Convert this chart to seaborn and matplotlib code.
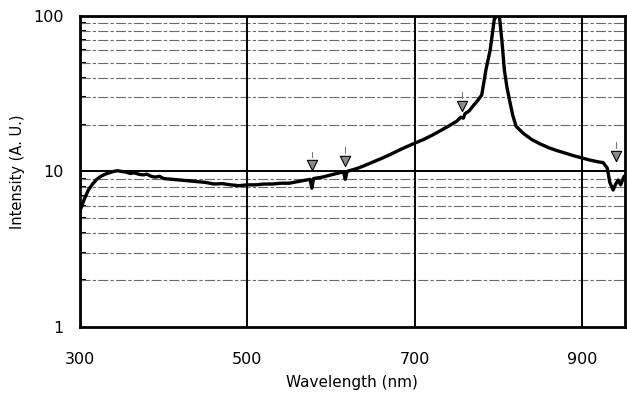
import numpy as np
import pandas as pd
import seaborn as sns
from matplotlib import pyplot as plt
from matplotlib.ticker import FixedLocator, NullFormatter, FixedFormatter

# spectrum
wavelength = [300, 305, 310, 315, 320, 325, 330, 335, 340, 345, 350, 355, 360, 365, 370,
              375, 380, 385, 390, 395, 400, 410, 420, 430, 440, 450, 460, 470, 480, 490,
              500, 510, 520, 530, 540, 550, 560, 570, 575, 577, 579, 590, 600, 610, 615,
              617, 619, 630, 640, 650, 660, 670, 680, 690, 700, 710, 720, 730, 740, 750,
              755, 758, 760, 765, 770, 775, 780, 785, 790, 795, 798, 801, 804, 807, 810,
              813, 817, 821, 830, 840, 850, 860, 870, 880, 890, 900, 910, 920, 925, 930,
              933, 937, 940, 943, 946, 950, 955]
intensity = [5.6, 6.6, 7.6, 8.3, 8.9, 9.3, 9.6, 9.8, 10.0, 10.1, 10.0, 9.9, 9.7, 9.8, 9.6,
             9.5, 9.6, 9.3, 9.2, 9.3, 9.0, 8.9, 8.8, 8.7, 8.6, 8.5, 8.3, 8.35, 8.2, 8.1,
             8.2, 8.2, 8.3, 8.3, 8.4, 8.4, 8.6, 8.8, 8.9, 7.8, 9.0, 9.2, 9.5, 9.8, 9.9,
             8.9, 10.0, 10.4, 10.9, 11.5, 12.1, 12.8, 13.6, 14.4, 15.2, 16.0, 17.0, 18.2, 19.5, 21.0,
             22.3, 22.0, 23.5, 24.5, 26.5, 28.5, 31, 45, 60, 95, 100, 100, 70, 45, 35,
             29, 23, 19.5, 17.5, 16.0, 15.0, 14.2, 13.6, 13.1, 12.6, 12.2, 11.8, 11.5, 11.4, 10.5,
             8.5, 7.6, 8.3, 8.8, 8.2, 9.3, 9.0]

# arrow-head markers
marker_wl = [577, 617, 757, 940]
marker_int = [11.0, 11.7, 26.4, 12.6]

x_ticks = [300, 500, 700, 900]
y_ticks = [1, 10, 100]
y_tick_labels = ["1", "10", "100"]

df = pd.DataFrame({"wl": wavelength, "I": intensity})

sns.set_style("white")
plt.rcParams['font.family'] = ['DejaVu Sans']
plt.rcParams['text.color'] = 'black'
plt.rcParams['axes.labelcolor'] = 'black'
plt.rcParams['xtick.color'] = 'black'
plt.rcParams['ytick.color'] = 'black'

fig = plt.figure(figsize=(6.27, 3.95), dpi=100)
ax = fig.add_axes([0.1276, 0.172, 0.869, 0.788])
ax.set_yscale('log')
ax.set_xlim(300, 951)
ax.set_ylim(1, 100)

# minor dashed grid
minors = [m * d for d in (1, 10) for m in range(2, 10)]
for v in minors:
    ax.axhline(v, color='#6a6a6a', lw=0.8, dashes=(9, 2, 3, 2), zorder=1)
ax.axhline(10, color='black', lw=1.4, zorder=2)
for v in x_ticks[1:]:
    ax.axvline(v, color='black', lw=1.4, zorder=2)

sns.lineplot(data=df, x="wl", y="I", color='black', lw=2.4, ax=ax, zorder=3)

# markers with little stems
ax.scatter(marker_wl, marker_int, marker='v', s=55, facecolor='#8a8a8a',
           edgecolor='black', linewidth=0.8, zorder=4)
for w, v in zip(marker_wl, marker_int):
    ax.plot([w, w], [v * 1.12, v * 1.22], color='#777777', lw=0.8, zorder=4)

ax.yaxis.set_major_locator(FixedLocator(y_ticks))
ax.yaxis.set_major_formatter(FixedFormatter(y_tick_labels))
ax.yaxis.set_minor_locator(FixedLocator(minors))
ax.yaxis.set_minor_formatter(NullFormatter())
ax.set_xticks(x_ticks)
ax.tick_params(axis='x', length=0, pad=18, labelsize=11.5)
ax.tick_params(axis='y', which='major', length=0, pad=12, labelsize=11.5)
ax.tick_params(axis='y', which='minor', direction='in', length=4, width=1.5, left=True)

for s in ax.spines.values():
    s.set_linewidth(2)
    s.set_color('black')

ax.set_xlabel('Wavelength (nm)', fontsize=11, labelpad=6)
ax.set_ylabel('Intensity (A. U.)', fontsize=10.5, labelpad=6)

plt.savefig("out.png", dpi=100)
